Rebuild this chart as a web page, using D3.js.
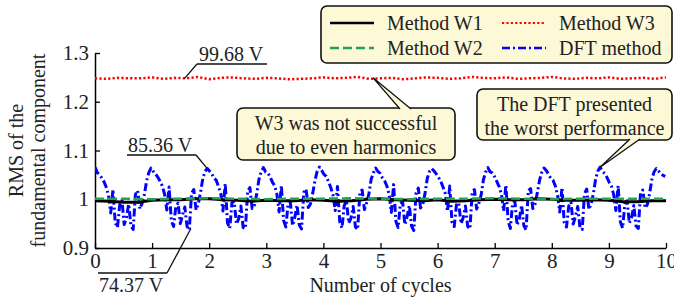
<!DOCTYPE html>
<html>
<head>
<meta charset="utf-8">
<script src="https://cdn.jsdelivr.net/npm/d3@7"></script>
<style>
  body { margin: 0; background: #fff; }
  svg { display: block; font-family: "Liberation Serif", "Times New Roman", serif; }
</style>
</head>
<body>
<div id="chart"></div>
<script>
// Chart data
var cycleTicks = [0, 1, 2, 3, 4, 5, 6, 7, 8, 9, 10];
var yTicks = [0.9, 1, 1.1, 1.2, 1.3];
var seriesNames = ['Method W1', 'Method W2', 'Method W3', 'DFT method'];

// Method W1 (black), sampled every 0.25 cycle
var w1Step = 0.25;
var w1Values = [0.997, 0.996, 0.994, 0.994, 0.998, 0.999, 0.999, 1.001, 1.001, 0.999,
  0.998, 0.996, 0.998, 0.997, 0.997, 0.999, 0.998, 0.996, 0.997, 1.000,
  1.001, 0.999, 0.998, 0.997, 0.999, 0.996, 0.997, 0.999, 1.000, 0.999,
  0.999, 1.001, 1.000, 0.998, 0.998, 0.999, 0.998, 0.995, 0.995, 0.997, 0.997];

// Method W2 (green), every 0.5 cycle
var w2Step = 0.5;
var w2Values = [1.001, 1.001, 1.000, 1.001, 1.002, 1.001, 1.000, 1.001, 1.001, 1.002,
  1.001, 1.000, 1.001, 1.001, 1.002, 1.001, 1.000, 1.001, 1.001, 1.001, 1.001];

// Method W3 (red), every 0.2 cycle
var w3Step = 0.2;
var w3Values = [1.248, 1.247, 1.249, 1.248, 1.248, 1.250, 1.247, 1.249, 1.248, 1.251,
  1.246, 1.249, 1.250, 1.248, 1.247, 1.249, 1.248, 1.246, 1.247, 1.248,
  1.250, 1.248, 1.249, 1.251, 1.247, 1.248, 1.249, 1.246, 1.248, 1.250,
  1.249, 1.247, 1.248, 1.251, 1.249, 1.248, 1.250, 1.247, 1.248, 1.249,
  1.251, 1.248, 1.247, 1.249, 1.248, 1.250, 1.247, 1.248, 1.249, 1.247, 1.250];

// DFT method (blue), sampled every 0.03932 cycle
var dftStep = 0.03932;
var dftValues = [
  1.066, 1.055, 1.050, 1.044, 1.036, 1.025, 1.008, 0.972, 1.020, 0.952, 0.942, 0.988, 0.998, 0.948, 0.962, 0.990, 0.946, 0.938, 1.010, 1.018, 0.980, 0.992, 1.010, 1.038, 1.055,
  1.064, 1.057, 1.052, 1.045, 1.037, 1.027, 1.010, 0.978, 1.025, 0.956, 0.944, 0.985, 0.992, 0.950, 0.968, 0.984, 0.944, 0.937, 1.012, 1.020, 0.978, 0.990, 1.014, 1.042, 1.057,
  1.063, 1.058, 1.053, 1.043, 1.039, 1.026, 1.012, 0.976, 1.032, 0.952, 0.940, 0.993, 0.996, 0.949, 0.960, 0.986, 0.942, 0.940, 1.017, 1.024, 0.981, 0.988, 1.010, 1.040, 1.056,
  1.065, 1.056, 1.054, 1.046, 1.035, 1.028, 1.011, 0.974, 1.028, 0.957, 0.943, 0.990, 0.994, 0.946, 0.963, 0.988, 0.947, 0.939, 1.014, 1.021, 0.983, 0.991, 1.013, 1.039, 1.058,
  1.066, 1.059, 1.051, 1.047, 1.036, 1.024, 1.009, 0.977, 1.026, 0.954, 0.941, 0.987, 0.997, 0.951, 0.961, 0.985, 0.943, 0.938, 1.016, 1.019, 0.979, 0.993, 1.011, 1.041, 1.054,
  1.064, 1.057, 1.053, 1.044, 1.038, 1.027, 1.010, 0.973, 1.030, 0.955, 0.942, 0.991, 0.995, 0.948, 0.964, 0.987, 0.945, 0.936, 1.013, 1.023, 0.982, 0.989, 1.012, 1.043, 1.057,
  1.063, 1.058, 1.052, 1.045, 1.037, 1.025, 1.012, 0.975, 1.027, 0.953, 0.944, 0.989, 0.993, 0.950, 0.962, 0.986, 0.944, 0.939, 1.015, 1.020, 0.980, 0.992, 1.009, 1.040, 1.056,
  1.065, 1.056, 1.054, 1.046, 1.036, 1.026, 1.011, 0.976, 1.029, 0.956, 0.940, 0.992, 0.996, 0.947, 0.960, 0.988, 0.946, 0.937, 1.018, 1.022, 0.981, 0.990, 1.013, 1.039, 1.055,
  1.064, 1.059, 1.051, 1.043, 1.039, 1.028, 1.008, 0.974, 1.024, 0.952, 0.943, 0.986, 0.994, 0.949, 0.965, 0.985, 0.942, 0.938, 1.011, 1.021, 0.979, 0.991, 1.012, 1.042, 1.058,
  1.066, 1.057, 1.053, 1.045, 1.035, 1.027, 1.010, 0.977, 1.028, 0.954, 0.941, 0.990, 0.997, 0.951, 0.963, 0.987, 0.945, 0.940, 1.014, 1.019, 0.982, 0.989, 1.011, 1.040, 1.056,
  1.063, 1.058, 1.052, 1.049, 1.047
];

// Set up svg size and margins
var svgWidth = 674;
var svgHeight = 298;
var margin = { top: 53, right: 8, bottom: 50, left: 95 };
var width = svgWidth - margin.left - margin.right;
var height = svgHeight - margin.top - margin.bottom;

var svg = d3.select('#chart').append('svg').attr('width', svgWidth).attr('height', svgHeight);
var chartGroup = svg.append('g').attr('transform', `translate(${margin.left}, ${margin.top})`);

var xScale = d3.scaleLinear().domain([0, 10]).range([0, width]);
var yScale = d3.scaleLinear().domain([0.9, 1.3]).range([height, 0]);

// Axes with ticks pointing inward
var bottomAxis = d3.axisBottom(xScale).tickValues(cycleTicks).tickSizeInner(-5).tickSizeOuter(0).tickPadding(5)
  .tickFormat(d3.format('d'));
var leftAxis = d3.axisLeft(yScale).tickValues(yTicks).tickSizeInner(-5).tickSizeOuter(0).tickPadding(6)
  .tickFormat((d) => (d === 1 ? '1' : d.toFixed(1)));

var xAxis = chartGroup.append('g').attr('transform', `translate(0, ${height})`).call(bottomAxis);
var yAxis = chartGroup.append('g').call(leftAxis);
[xAxis, yAxis].forEach(function(ax) {
  ax.select('.domain').attr('stroke', '#000').attr('stroke-width', 1.5);
  ax.selectAll('.tick line').attr('stroke', '#000').attr('stroke-width', 1.3);
  ax.selectAll('.tick text').attr('font-size', '21px').attr('fill', '#222')
    .attr('font-family', '"Liberation Serif", "Times New Roman", serif');
});

// Series styles
var styles = {
  'Method W1': { color: '#000000', dash: null, width: 3 },
  'Method W2': { color: '#22a352', dash: '9,4', width: 2.6 },
  'Method W3': { color: '#ff0000', dash: '2.2,2.2', width: 2.5 },
  'DFT method': { color: '#0000ff', dash: '8,3,2,3', width: 3 }
};

function toPoints(values, step) {
  return values.map((v, i) => ({ x: i * step, y: v }));
}

var line = d3.line().x((d) => xScale(d.x)).y((d) => yScale(d.y));

var seriesData = [
  { name: 'DFT method', points: toPoints(dftValues, dftStep) },
  { name: 'Method W3', points: toPoints(w3Values, w3Step) },
  { name: 'Method W1', points: toPoints(w1Values, w1Step) },
  { name: 'Method W2', points: toPoints(w2Values, w2Step) }
];

chartGroup.append('defs').append('clipPath').attr('id', 'plotClip')
  .append('rect').attr('x', 0).attr('y', -10).attr('width', width + 2).attr('height', height + 10);

chartGroup.append('g').attr('clip-path', 'url(#plotClip)')
  .selectAll('path.series')
  .data(seriesData)
  .enter()
  .append('path')
  .attr('class', 'series')
  .attr('d', (d) => line(d.points))
  .attr('fill', 'none')
  .attr('stroke', (d) => styles[d.name].color)
  .attr('stroke-width', (d) => styles[d.name].width)
  .attr('stroke-dasharray', (d) => styles[d.name].dash)
  .attr('stroke-linejoin', 'round');

// Axis titles
svg.append('text')
  .attr('x', margin.left + width / 2)
  .attr('y', 292)
  .attr('text-anchor', 'middle')
  .attr('font-size', '20px')
  .attr('fill', '#222')
  .text('Number of cycles');

var yTitle = svg.append('text')
  .attr('transform', `translate(0, ${margin.top + height / 2}) rotate(-90)`)
  .attr('text-anchor', 'middle')
  .attr('font-size', '20px')
  .attr('fill', '#222');
yTitle.append('tspan').attr('x', 0).attr('y', 23).text('RMS of the');
yTitle.append('tspan').attr('x', 0).attr('y', 45).text('fundamental component');

// Legend
var boxFill = '#fdf8d6';
var legend = svg.append('g');
legend.append('rect')
  .attr('x', 321).attr('y', 6).attr('width', 351).attr('height', 57).attr('rx', 6)
  .attr('fill', boxFill).attr('stroke', '#111').attr('stroke-width', 1.6);

var legendPos = [
  { x: 330, y: 23 },
  { x: 330, y: 48 },
  { x: 502, y: 23 },
  { x: 502, y: 48 }
];
seriesNames.forEach(function(name, i) {
  var p = legendPos[i];
  var s = styles[name];
  legend.append('line')
    .attr('x1', p.x).attr('x2', p.x + 44).attr('y1', p.y).attr('y2', p.y)
    .attr('stroke', s.color).attr('stroke-width', name === 'Method W3' ? 2 : 2.4)
    .attr('stroke-dasharray', s.dash);
  legend.append('text')
    .attr('x', p.x + 57).attr('y', p.y + 7)
    .attr('font-size', '20px').attr('fill', '#222')
    .text(name);
});

// Callout boxes with tails
function callout(box, lines, tail) {
  var g = svg.append('g');
  g.append('rect')
    .attr('x', box.x).attr('y', box.y).attr('width', box.w).attr('height', box.h).attr('rx', 6)
    .attr('fill', boxFill).attr('stroke', '#111').attr('stroke-width', 1.6);
  g.append('path')
    .attr('d', `M${tail.x1},${tail.y} L${tail.tx},${tail.ty} L${tail.x2},${tail.y}`)
    .attr('fill', boxFill).attr('stroke', '#111').attr('stroke-width', 1.3);
  lines.forEach(function(t, i) {
    g.append('text')
      .attr('x', box.x + box.w / 2).attr('y', box.y + 22 + i * 24)
      .attr('text-anchor', 'middle').attr('font-size', '20px').attr('fill', '#222')
      .text(t);
  });
}

callout({ x: 237, y: 108, w: 218, h: 52 }, ['W3 was not successful', 'due to even harmonics'],
  { x1: 400, x2: 411, y: 109, tx: margin.left + xScale(4.87), ty: margin.top + yScale(1.249) });
callout({ x: 477, y: 89, w: 195, h: 51 }, ['The DFT presented', 'the worst performance'],
  { x1: 630, x2: 640, y: 139, tx: margin.left + xScale(8.84), ty: margin.top + yScale(1.065) });

// Value labels with leader lines
function valueLabel(text, tx, ty, ux1, ux2, uy, joinSide, textX, textY) {
  var g = svg.append('g');
  var jx = joinSide === 'left' ? ux1 : ux2;
  g.append('path')
    .attr('d', `M${ux2},${uy} L${ux1},${uy} M${jx},${uy} L${tx},${ty}`)
    .attr('fill', 'none').attr('stroke', '#111').attr('stroke-width', 1.3);
  g.append('text').attr('x', textX).attr('y', textY)
    .attr('font-size', '20px').attr('fill', '#222').text(text);
}

valueLabel('99.68 V', margin.left + xScale(1.57), margin.top + yScale(1.248), 197, 267, 64, 'left', 199, 61);
valueLabel('85.36 V', margin.left + xScale(1.96), margin.top + yScale(1.064), 127, 196, 155, 'right', 128, 152);
valueLabel('74.37 V', margin.left + xScale(1.68), margin.top + yScale(0.940), 98, 167, 273, 'right', 99, 292);
</script>
</body>
</html>
